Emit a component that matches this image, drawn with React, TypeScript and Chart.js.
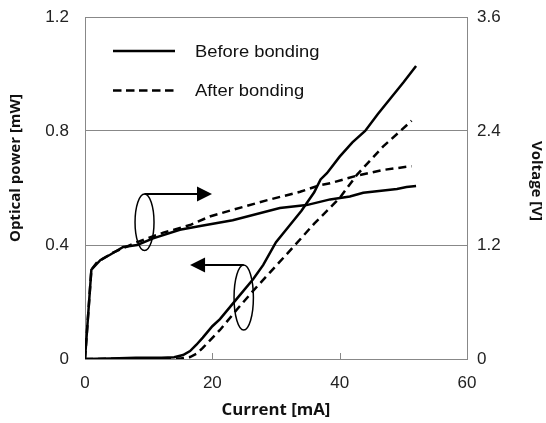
import React, { useEffect, useRef } from "react";
import { Chart, registerables } from "chart.js";

Chart.register(...registerables);

// ---------- data ----------
const beforePowerCurrent = [0, 4, 8, 12, 14, 15.4, 16.5, 17.5, 18.5, 20, 21.2, 23.8, 26.4, 28, 30, 32, 34, 36, 37, 38, 40, 42, 44, 46, 48, 50, 52];
const beforePower = [0, 0.002, 0.004, 0.004, 0.006, 0.014, 0.028, 0.05, 0.075, 0.115, 0.14, 0.21, 0.28, 0.33, 0.41, 0.465, 0.52, 0.585, 0.63, 0.652, 0.71, 0.76, 0.8, 0.86, 0.915, 0.97, 1.028];

const afterPowerCurrent = [0, 15, 16.5, 17.5, 18.5, 21.2, 23.8, 26.4, 29.1, 33, 36, 40, 42.7, 46.8, 51.3];
const afterPower = [0, 0.002, 0.007, 0.018, 0.039, 0.102, 0.172, 0.239, 0.305, 0.4, 0.475, 0.565, 0.646, 0.745, 0.836];

const beforeVoltageCurrent = [0, 1, 2.4, 4, 6, 8.2, 10.7, 14.9, 18.1, 23.2, 30.6, 34.8, 38.5, 41.6, 43.7, 49, 50.5, 52];
const beforeVoltage = [0, 0.94, 1.04, 1.1, 1.18, 1.2, 1.27, 1.36, 1.4, 1.46, 1.59, 1.62, 1.68, 1.71, 1.75, 1.79, 1.81, 1.82];

const afterVoltageCurrent = [0, 1, 1.9, 4.4, 8.2, 12.3, 16.5, 19.6, 23.2, 28.5, 33.8, 36.9, 38.5, 42.7, 46.8, 51.3];
const afterVoltage = [0, 0.94, 1.02, 1.12, 1.23, 1.33, 1.41, 1.5, 1.57, 1.67, 1.76, 1.83, 1.85, 1.93, 1.99, 2.03];

const xTicks = [0, 20, 40, 60];
const powerTicks = [0, 0.4, 0.8, 1.2];
const voltageTicks = [0, 1.2, 2.4, 3.6];
const powerTickLabels = ["0", "0.4", "0.8", "1.2"];
const voltageTickLabels = ["0", "1.2", "2.4", "3.6"];

const seriesNames = ["Before bonding", "After bonding"];
const xTitle = "Current [mA]";
const yTitle = "Optical power [mW]";
const y2Title = "Voltage [V]";

// annotation anchors (data units: current, optical power)
const voltageGroup = { cx: 9.35, cy: 0.48, rx: 1.49, ry: 0.099, arrowTo: 19.95 };
const powerGroup = { cx: 24.93, cy: 0.216, rx: 1.52, ry: 0.114, arrowTo: 16.5 };

const toPoints = (xs: number[], ys: number[]) => xs.map((x, i) => ({ x, y: ys[i] }));

const GRID = "#888888";
const TICK_FONT = "'Liberation Sans', Arial, sans-serif";
const TITLE_FONT = "'Open Sans', 'Liberation Sans', sans-serif";
const DASH = [8, 5];

const noScalePadding = (s: any) => {
  s.paddingTop = 0;
  s.paddingBottom = 0;
  s.paddingLeft = 0;
  s.paddingRight = 0;
};

const decorPlugin = {
  id: "decor",
  afterDraw(chart: any) {
    const { ctx, chartArea } = chart;
    const xs = chart.scales.x;
    const ys = chart.scales.y;
    ctx.save();

    // inner tick marks on x axis
    ctx.strokeStyle = GRID;
    ctx.lineWidth = 1;
    xs.ticks.forEach((t: any) => {
      if (t.value === xs.min || t.value === xs.max) return;
      const px = Math.round(xs.getPixelForValue(t.value)) + 0.5;
      ctx.beginPath();
      ctx.moveTo(px, chartArea.bottom);
      ctx.lineTo(px, chartArea.bottom - 6);
      ctx.stroke();
    });

    // ellipses + arrows
    ctx.strokeStyle = "#000";
    ctx.fillStyle = "#000";
    const drawGroup = (g: any) => {
      const cx = xs.getPixelForValue(g.cx);
      const cy = ys.getPixelForValue(g.cy);
      const rx = Math.abs(xs.getPixelForValue(g.cx + g.rx) - cx);
      const ry = Math.abs(ys.getPixelForValue(g.cy + g.ry) - cy);
      ctx.lineWidth = 1.5;
      ctx.setLineDash([]);
      ctx.beginPath();
      ctx.ellipse(cx, cy, rx, ry, 0, 0, Math.PI * 2);
      ctx.stroke();
      const top = cy - ry;
      const tip = xs.getPixelForValue(g.arrowTo);
      const dir = tip > cx ? 1 : -1;
      const head = 15;
      ctx.lineWidth = 2;
      ctx.beginPath();
      ctx.moveTo(cx, top);
      ctx.lineTo(tip - dir * head, top);
      ctx.stroke();
      ctx.beginPath();
      ctx.moveTo(tip, top);
      ctx.lineTo(tip - dir * head, top - 7.5);
      ctx.lineTo(tip - dir * head, top + 7.5);
      ctx.closePath();
      ctx.fill();
    };
    drawGroup(voltageGroup);
    drawGroup(powerGroup);

    // legend
    const lx0 = chartArea.left + 28;
    const lx1 = chartArea.left + 90;
    const tx = chartArea.left + 110;
    const rows = [chartArea.top + 34, chartArea.top + 73.5];
    ctx.font = `17px ${TICK_FONT}`;
    ctx.textBaseline = "middle";
    ctx.textAlign = "left";
    rows.forEach((ry: number, i: number) => {
      ctx.lineWidth = 2.5;
      ctx.setLineDash(i === 0 ? [] : [8.5, 4.5]);
      ctx.beginPath();
      ctx.moveTo(lx0, ry);
      ctx.lineTo(lx1, ry);
      ctx.stroke();
      ctx.setLineDash([]);
      ctx.save();
      ctx.translate(tx, ry + 1);
      ctx.scale(1.08, 1);
      ctx.fillStyle = "#111";
      ctx.fillText(seriesNames[i], 0, 0);
      ctx.restore();
    });

    // axis titles
    ctx.fillStyle = "#111";
    ctx.textAlign = "center";
    ctx.textBaseline = "middle";
    ctx.font = `bold 16px ${TITLE_FONT}`;
    ctx.save();
    ctx.translate((chartArea.left + chartArea.right) / 2, chartArea.bottom + 51);
    ctx.scale(1.05, 1);
    ctx.fillText(xTitle, 0, 0);
    ctx.restore();

    ctx.font = `bold 15px ${TITLE_FONT}`;
    ctx.save();
    ctx.translate(chartArea.left - 69, chartArea.top + 151);
    ctx.rotate(-Math.PI / 2);
    ctx.fillText(yTitle, 0, 0);
    ctx.restore();

    ctx.save();
    ctx.translate(chartArea.right + 69, chartArea.top + 164);
    ctx.rotate(Math.PI / 2);
    ctx.fillText(y2Title, 0, 0);
    ctx.restore();

    ctx.restore();
  },
};

export default function App() {
  const ref = useRef<HTMLCanvasElement | null>(null);

  useEffect(() => {
    if (!ref.current) return;
    const line = (label: string, xsArr: number[], ysArr: number[], axis: string, dashed: boolean) => ({
      label,
      data: toPoints(xsArr, ysArr),
      yAxisID: axis,
      borderColor: "#000",
      backgroundColor: "#000",
      borderWidth: 2.5,
      borderDash: dashed ? DASH : [],
      pointRadius: 0,
      tension: 0,
      fill: false,
    });

    const chart = new Chart(ref.current, {
      type: "line",
      data: {
        datasets: [
          line(seriesNames[0] + " power", beforePowerCurrent, beforePower, "y", false),
          line(seriesNames[1] + " power", afterPowerCurrent, afterPower, "y", true),
          line(seriesNames[0] + " voltage", beforeVoltageCurrent, beforeVoltage, "y2", false),
          line(seriesNames[1] + " voltage", afterVoltageCurrent, afterVoltage, "y2", true),
        ],
      },
      options: {
        responsive: false,
        animation: false,
        events: [],
        layout: { padding: { top: 17, left: 0, right: 0, bottom: 0 } },
        plugins: { legend: { display: false }, tooltip: { enabled: false } },
        scales: {
          x: {
            type: "linear",
            min: 0,
            max: 60,
            afterBuildTicks: (s: any) => {
              s.ticks = xTicks.map((v) => ({ value: v }));
            },
            afterFit: (s: any) => {
              s.height = 64;
              noScalePadding(s);
            },
            grid: { display: false, drawTicks: false },
            border: { display: true, color: GRID, width: 1 },
            ticks: {
              padding: 14,
              color: "#222",
              font: { family: TICK_FONT, size: 17 },
              maxRotation: 0,
              callback: (v: any) => String(v),
            },
          },
          y: {
            type: "linear",
            position: "left",
            min: 0,
            max: 1.2,
            afterBuildTicks: (s: any) => {
              s.ticks = powerTicks.map((v) => ({ value: v }));
            },
            afterFit: (s: any) => {
              s.width = 85;
              noScalePadding(s);
            },
            grid: { display: true, color: GRID, lineWidth: 1, drawTicks: false },
            border: { display: true, color: GRID, width: 1 },
            ticks: {
              padding: 16,
              color: "#222",
              font: { family: TICK_FONT, size: 17 },
              callback: (v: any) => powerTickLabels[powerTicks.indexOf(v)] ?? String(v),
            },
          },
          y2: {
            type: "linear",
            position: "right",
            min: 0,
            max: 3.6,
            afterBuildTicks: (s: any) => {
              s.ticks = voltageTicks.map((v) => ({ value: v }));
            },
            afterFit: (s: any) => {
              s.width = 79;
              noScalePadding(s);
            },
            grid: { display: false, drawTicks: false },
            border: { display: true, color: GRID, width: 1 },
            ticks: {
              padding: 10,
              color: "#222",
              font: { family: TICK_FONT, size: 17 },
              callback: (v: any) => voltageTickLabels[voltageTicks.indexOf(v)] ?? String(v),
            },
          },
        },
      } as any,
      plugins: [decorPlugin],
    });
    return () => chart.destroy();
  }, []);

  return (
    <div style={{ position: "absolute", left: 0, top: 0, width: 546, height: 423, background: "#fff" }}>
      <canvas ref={ref} width={546} height={423} style={{ display: "block" }} />
    </div>
  );
}
